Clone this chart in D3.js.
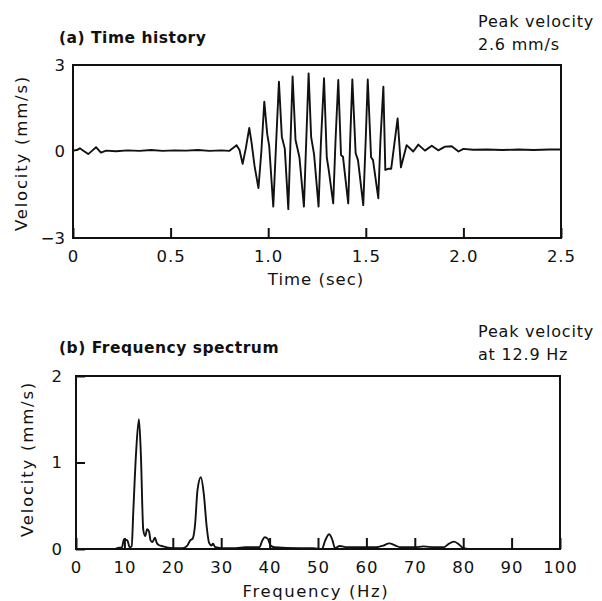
<!DOCTYPE html>
<html>
<head>
<meta charset="utf-8">
<script src="https://cdn.jsdelivr.net/npm/d3@7"></script>
<style>
body{margin:0;background:#fff;}
text{font-family:"DejaVu Sans",sans-serif;fill:#111;}
</style>
</head>
<body>
<svg id="c" width="602" height="601"></svg>
<script>
// ---- Data: (a) time history ----
const timeSec = [0.00,0.02,0.035,0.055,0.078,0.10,0.118,0.143,0.17,0.22,0.28,0.34,0.40,0.46,0.52,0.58,0.64,0.70,0.76,0.80,
0.838,0.853,0.869,0.885,0.903,0.915,0.93,0.95,0.965,0.98,0.995,1.005,1.026,1.04,1.055,1.07,1.085,1.103,1.115,1.125,
1.14,1.16,1.183,1.195,1.207,1.22,1.235,1.258,1.27,1.286,1.30,1.31,1.333,1.345,1.359,1.373,1.383,1.41,1.42,1.431,
1.448,1.46,1.487,1.50,1.51,1.527,1.537,1.564,1.575,1.59,1.60,1.615,1.63,1.663,1.68,1.709,1.743,1.769,1.803,1.838,
1.871,1.906,1.94,1.975,2.0,2.05,2.12,2.2,2.28,2.36,2.44,2.5];
const velocity = [0.03,0.05,0.11,0.02,-0.09,0.04,0.15,-0.04,0.03,0.01,0.04,0.02,0.05,0.02,0.04,0.03,0.05,0.02,0.04,0.02,
0.22,0.05,-0.43,0.1,0.82,0.3,-0.5,-1.27,0.0,1.73,0.6,0.2,-1.91,0.2,2.42,0.5,0.1,-2.0,0.5,2.6,
0.4,-0.2,-1.91,0.4,2.71,0.5,-0.1,-1.91,0.3,2.54,-0.2,-0.64,-1.8,0.4,2.48,-0.12,-0.18,-1.8,0.4,2.5,
-0.06,-0.3,-1.86,0.5,2.5,-0.2,-0.3,-1.62,0.4,2.25,-0.64,-0.6,-0.6,1.15,-0.55,0.22,0.0,0.24,0.03,0.2,
0.04,0.17,0.18,0.0,0.09,0.06,0.07,0.05,0.07,0.05,0.07,0.07];
const timeTicks = [0,0.5,1.0,1.5,2.0,2.5];
const timeTickLabels = ["0","0.5","1.0","1.5","2.0","2.5"];
const velTicksA = [-3,0,3];
const velTickLabelsA = ["\u22123","0","3"];

// ---- Data: (b) frequency spectrum ----
const freqHz = [0,8,8.5,9.5,9.9,10.6,11.1,11.5,11.85,12.4,13.0,13.4,13.9,14.3,14.7,15.1,15.4,15.8,16.3,16.7,17.0,18,19,20,22,23,23.6,24.1,24.6,25.1,25.8,26.4,27.0,27.5,28.0,28.3,28.8,30,33,35,37,37.9,38.5,39.0,39.6,40.2,41,46,49,50.8,51.5,52.3,53,53.5,54.5,56,60,62,63.5,64.7,66,67,70,71.8,74,76,77,78.1,79.2,80,82,100];
const spectrum = [0,0,0.01,0.02,0.11,0.1,0.02,0.03,0.45,1.1,1.5,1.1,0.22,0.15,0.23,0.2,0.1,0.08,0.13,0.07,0.05,0.03,0.015,0.01,0.01,0.04,0.1,0.12,0.28,0.68,0.83,0.64,0.26,0.07,0.04,0.06,0.02,0.01,0.01,0.02,0.02,0.02,0.1,0.135,0.12,0.04,0.02,0.01,0.01,0.0,0.1,0.17,0.1,0.01,0.035,0.02,0.02,0.02,0.04,0.065,0.04,0.02,0.02,0.03,0.02,0.02,0.06,0.085,0.05,0.01,0,0];
const freqTicks = [0,10,20,30,40,50,60,70,80,90,100];
const velTicksB = [0,1,2];

const svg = d3.select("#c");
const FONT = "DejaVu Sans, sans-serif";

function panel(o){
  const g = svg.append("g");
  const x = d3.scaleLinear().domain(o.xd).range([o.l,o.r]);
  const y = d3.scaleLinear().domain(o.yd).range([o.b,o.t]);
  g.append("rect").attr("x",o.l).attr("y",o.t).attr("width",o.r-o.l).attr("height",o.b-o.t)
    .attr("fill","none").attr("stroke","#111").attr("stroke-width",2);
  const xa = g.append("g").attr("transform",`translate(0,${o.b})`)
    .call(d3.axisBottom(x).tickValues(o.xt).tickSize(-o.xtl).tickSizeOuter(0).tickFormat((d,i)=>o.xl[i]));
  xa.select(".domain").remove();
  xa.selectAll("line").attr("stroke","#111").attr("stroke-width",2);
  xa.selectAll("text").attr("y",o.xly).attr("dy","0.71em").attr("font-size",16.5).style("font-family",FONT)
    .style("letter-spacing","1px").attr("fill","#111");
  const ya = g.append("g").attr("transform",`translate(${o.l},0)`)
    .call(d3.axisLeft(y).tickValues(o.yt).tickSize(-o.ytl).tickSizeOuter(0).tickFormat((d,i)=>o.yl[i]));
  ya.select(".domain").remove();
  ya.selectAll("line").attr("stroke","#111").attr("stroke-width",2);
  ya.selectAll("text").attr("x",-o.ylx).attr("font-size",16.5).style("font-family",FONT).attr("fill","#111");
  const line = d3.line().x(d=>x(d[0])).y(d=>y(d[1])).curve(o.curve);
  g.append("path").datum(d3.zip(o.xs,o.ys)).attr("d",line)
    .attr("fill","none").attr("stroke","#111").attr("stroke-width",1.9).attr("stroke-linejoin","round");
  return {x,y};
}

panel({l:73,r:561,t:65,b:238,xd:[0,2.5],yd:[-3,3],xt:timeTicks,xl:timeTickLabels,yt:velTicksA,yl:velTickLabelsA,
  xtl:10,ytl:0,xly:12,ylx:8,xs:timeSec,ys:velocity,curve:d3.curveLinear});
panel({l:76,r:560,t:376,b:549,xd:[0,100],yd:[0,2],xt:freqTicks,xl:freqTicks.map(String),yt:velTicksB,yl:velTicksB.map(String),
  xtl:11,ytl:9,xly:12,ylx:14,xs:freqHz,ys:spectrum,curve:d3.curveMonotoneX});

function t(x,y,s,opt={}){
  const e = svg.append("text").attr("x",x).attr("y",y).text(s).attr("font-size",opt.fs||15)
    .style("letter-spacing",(opt.ls||0)+"px");
  if(opt.bold) e.attr("font-weight","bold");
  if(opt.anchor) e.attr("text-anchor",opt.anchor);
  if(opt.rot) e.attr("transform",`rotate(-90,${x},${y})`);
  return e;
}
t(59,43,"(a) Time history",{bold:true,fs:15.5,ls:0.5});
t(478,27,"Peak velocity",{fs:16,ls:0.8});
t(478,50,"2.6 mm/s",{fs:16,ls:0.8});
t(316,285,"Time (sec)",{anchor:"middle",fs:16.5,ls:1});
t(27,153,"Velocity (mm/s)",{anchor:"middle",fs:16.5,ls:1.8,rot:true});

t(59,353,"(b) Frequency spectrum",{bold:true,fs:15.5,ls:0.5});
t(478,337,"Peak velocity",{fs:16,ls:0.8});
t(478,360,"at 12.9 Hz",{fs:16,ls:0.8});
t(316,597,"Frequency (Hz)",{anchor:"middle",fs:16.5,ls:1.6});
t(33,459,"Velocity (mm/s)",{anchor:"middle",fs:16.5,ls:1.8,rot:true});
</script>
</body>
</html>
